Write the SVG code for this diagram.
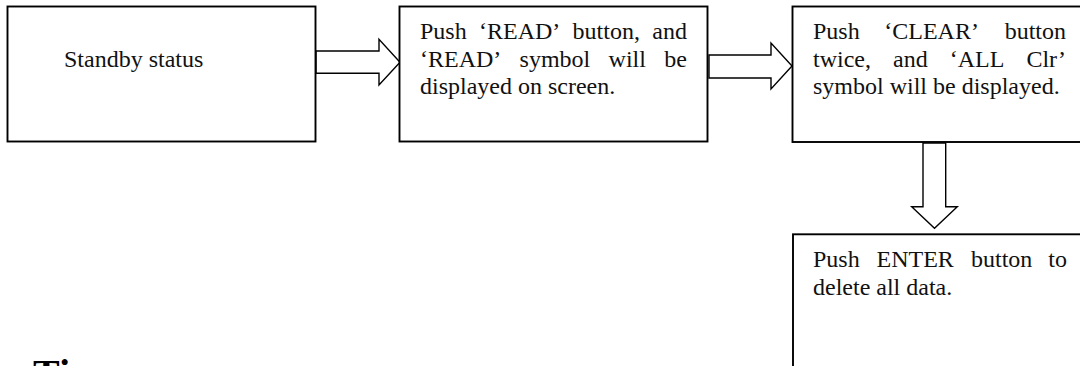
<svg xmlns="http://www.w3.org/2000/svg" width="1080" height="366" viewBox="0 0 1080 366">
<style>
.box{fill:#fff;stroke:#000;stroke-width:1.9}
.arr{fill:#fff;stroke:#000;stroke-width:1.4;stroke-linejoin:miter}
.t{font-family:"Liberation Serif","Times New Roman",serif;font-size:24px;fill:#111}
.h{font-family:"Liberation Serif","Times New Roman",serif;font-size:40px;font-weight:bold;fill:#000}
</style>
<rect width="1080" height="366" fill="#fff"/>
<g id="connectors">
<polygon class="arr" points="316,51 379,51 379,39.3 400,62.3 379,85 379,73.3 316,73.3"/>
<polygon class="arr" points="709,55 771,55 771,43 792,66 771,89 771,78 709,78"/>
<polygon class="arr" points="923,143 945.7,143 945.7,206.7 957.3,206.7 934.5,228.3 911.7,206.7 923,206.7"/>
</g>
<g id="node1">
<rect class="box" x="7.5" y="6.5" width="308" height="135"/>
<text class="t" x="64" y="67">Standby status</text>
</g>
<g id="node2">
<rect class="box" x="399.5" y="6.5" width="308" height="135"/>
<text class="t" y="39"><tspan x="420">Push</tspan><tspan x="479">‘READ’</tspan><tspan x="572.6">button,</tspan><tspan x="687" text-anchor="end">and</tspan></text>
<text class="t" y="66.6"><tspan x="420">‘READ’</tspan><tspan x="519.6">symbol</tspan><tspan x="608.6">will</tspan><tspan x="687" text-anchor="end">be</tspan></text>
<text class="t" x="420" y="94.2">displayed on screen.</text>
</g>
<g id="node3">
<rect class="box" x="792.5" y="6.5" width="300" height="135.5"/>
<text class="t" y="39"><tspan x="813">Push</tspan><tspan x="884.3">‘CLEAR’</tspan><tspan x="1066" text-anchor="end">button</tspan></text>
<text class="t" y="66.6"><tspan x="813">twice,</tspan><tspan x="893">and</tspan><tspan x="949.7">‘ALL</tspan><tspan x="1066" text-anchor="end">Clr’</tspan></text>
<text class="t" x="813" y="94.2">symbol will be displayed.</text>
</g>
<g id="node4">
<rect class="box" x="793" y="234.3" width="300" height="150"/>
<text class="t" y="267.3"><tspan x="813">Push</tspan><tspan x="876.5">ENTER</tspan><tspan x="971">button</tspan><tspan x="1067" text-anchor="end">to</tspan></text>
<text class="t" x="813" y="295">delete all data.</text>
</g>
<text class="h" x="33" y="386.5">Ti</text>
</svg>
